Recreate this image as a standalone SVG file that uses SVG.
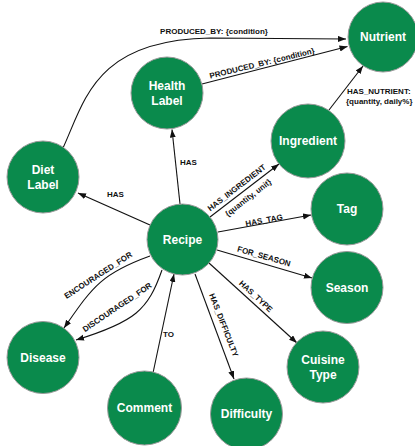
<svg xmlns="http://www.w3.org/2000/svg" width="415" height="446" viewBox="0 0 415 446">
<style>
.node circle{fill:#0a8a4c;stroke:#9a9a9a;stroke-width:1}
.node text{fill:#ffffff;font-family:"Liberation Sans",Arial,sans-serif;font-weight:bold;font-size:12px;text-anchor:middle}
.edges path{fill:none;stroke:#111;stroke-width:1.1;marker-end:url(#arr)}
.lbl{fill:#111;font-family:"Liberation Sans",Arial,sans-serif;font-weight:bold;font-size:8px}
.c{text-anchor:middle}
</style>
<defs>
<marker id="arr" markerUnits="userSpaceOnUse" markerWidth="9" markerHeight="7" refX="8" refY="3" orient="auto">
<path d="M0,0 L8,3 L0,6 z" fill="#111"/>
</marker>
</defs>
<rect width="415" height="446" fill="#ffffff"/>
<g class="edges">
<path d="M63,148 C85,100 95,40 210,38 L346,39"/>
<path d="M202,84 L347.5,46.5"/>
<path d="M329,110 L363,66"/>
<path d="M180,204 L172,129.5"/>
<path d="M150,225 L78,193"/>
<path d="M210,217 L279,164"/>
<path d="M218,232 L311,215"/>
<path d="M217,250 L312,278"/>
<path d="M209,263 L297,343"/>
<path d="M195,274 L234,379"/>
<path d="M153,373 L174,274"/>
<path d="M150,256 C100,274 92,288 64,328"/>
<path d="M162,270 C148,310 135,322 76,340"/>
</g>
<g class="labels">
<text class="lbl c" x="214" y="34">PRODUCED_BY: {condition}</text>
<text class="lbl c" transform="translate(262,63) rotate(-13.7)" y="3">PRODUCED_BY: {condition}</text>
<text class="lbl" x="347" y="94">HAS_NUTRIENT:</text>
<text class="lbl" x="346" y="103.5">{quantity, daily%}</text>
<text class="lbl" x="180" y="164.5">HAS</text>
<text class="lbl" x="107" y="197">HAS</text>
<text class="lbl c" transform="translate(236.5,187.5) rotate(-37.5)" y="3">HAS_INGREDIENT</text>
<text class="lbl c" transform="translate(248,197.5) rotate(-37.5)" y="3">{quantity, unit}</text>
<text class="lbl c" transform="translate(264,220) rotate(-10.5)" y="3">HAS_TAG</text>
<text class="lbl c" transform="translate(264,256) rotate(16)" y="3">FOR_SEASON</text>
<text class="lbl c" transform="translate(256,296) rotate(42.6)" y="3">HAS_TYPE</text>
<text class="lbl c" transform="translate(224,325) rotate(68.7)" y="3">HAS_DIFFICULTY</text>
<text class="lbl" x="163" y="337">TO</text>
<text class="lbl c" transform="translate(98,275) rotate(-33)" y="3">ENCOURAGED_FOR</text>
<text class="lbl c" transform="translate(117,307) rotate(-34)" y="3">DISCOURAGED_FOR</text>
</g>
<g id="nutrient" class="node"><circle cx="383" cy="37" r="35"/><text x="383" y="41.3">Nutrient</text></g>
<g id="health-label" class="node"><circle cx="167" cy="93" r="36"/><text x="167" y="90">Health</text><text x="167" y="105">Label</text></g>
<g id="diet-label" class="node"><circle cx="43" cy="177" r="36"/><text x="43" y="174">Diet</text><text x="43" y="189">Label</text></g>
<g id="ingredient" class="node"><circle cx="308" cy="141" r="37"/><text x="308" y="145.3">Ingredient</text></g>
<g id="tag" class="node"><circle cx="347" cy="209" r="36"/><text x="347" y="213.3">Tag</text></g>
<g id="recipe" class="node"><circle cx="182.5" cy="239.5" r="35.5"/><text x="182.5" y="243.8">Recipe</text></g>
<g id="season" class="node"><circle cx="347" cy="287.5" r="36"/><text x="347" y="291.8">Season</text></g>
<g id="cuisine-type" class="node"><circle cx="323" cy="367" r="36"/><text x="323" y="364">Cuisine</text><text x="323" y="379">Type</text></g>
<g id="difficulty" class="node"><circle cx="246.5" cy="414" r="36"/><text x="246.5" y="418.3">Difficulty</text></g>
<g id="disease" class="node"><circle cx="43" cy="357.5" r="36"/><text x="43" y="361.8">Disease</text></g>
<g id="comment" class="node"><circle cx="144.5" cy="408" r="37"/><text x="144.5" y="412.3">Comment</text></g>
</svg>
